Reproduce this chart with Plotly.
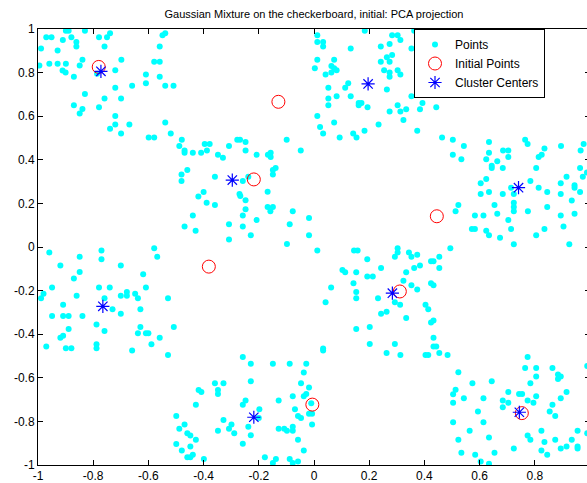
import plotly.graph_objects as go

points_x = [
 -0.995,-0.989,-0.970,-0.951,-0.959,-0.929,-0.929,-0.910,-0.911,-0.900,-0.899,-0.899,-0.889,-0.879,-0.861,-0.861,-0.870,-0.849,-0.839,-0.830,
 -0.870,-0.839,-0.849,-0.830,-0.779,-0.759,-0.750,-0.739,-0.779,-0.759,-0.786,-0.720,-0.698,-0.720,-0.720,-0.720,-0.699,-0.739,-0.699,-0.669,
 -0.659,-0.609,-0.609,-0.599,-0.579,-0.579,-0.559,-0.559,-0.549,-0.539,-0.559,-0.539,-0.509,-0.539,-0.519,-0.479,-0.488,-0.469,-0.469,-0.439,
 -0.409,-0.388,-0.396,-0.378,-0.348,-0.308,-0.278,-0.268,-0.248,-0.248,-0.208,-0.167,-0.157,-0.099,
 0.012,0.012,0.033,0.033,0.184,0.133,0.283,0.303,0.313,0.242,0.274,0.353,0.363,0.012,0.003,0.063,0.073,0.073,0.082,0.063,
 0.042,0.242,0.274,0.264,0.283,0.254,0.274,0.274,0.303,0.313,0.124,0.113,0.052,0.052,0.052,0.082,0.133,0.162,0.172,0.162,
 0.194,0.264,0.384,0.353,0.393,0.303,0.334,0.274,0.313,0.384,0.443,0.012,0.324,0.073,0.022,0.033,0.234,0.183,0.142,0.154,
 0.093,0.374,0.464,0.503,0.543,0.634,0.634,0.685,0.704,0.765,0.774,0.835,0.825,0.895,0.966,0.977,0.503,-0.048,
 -0.480,-0.480,-0.459,-0.359,-0.419,-0.400,-0.389,-0.359,-0.439,-0.469,-0.429,-0.959,-0.770,-0.770,-0.849,-0.919,-0.849,-0.870,-0.700,-0.579,
 -0.568,-0.619,-0.949,-0.980,-0.989,-0.909,-0.860,-0.779,-0.740,-0.759,-0.700,-0.678,-0.678,-0.648,-0.638,-0.609,-0.529,
 -0.330,-0.157,-0.139,-0.149,-0.149,-0.238,-0.258,-0.270,-0.267,-0.248,-0.168,-0.168,-0.149,-0.158,-0.248,-0.258,-0.208,-0.308,-0.258,-0.229,
 -0.308,-0.077,-0.018,-0.088,-0.018,-0.098,0.012,0.145,0.158,0.193,0.303,0.303,0.293,0.243,0.103,0.113,0.153,0.193,0.213,0.062,
 0.143,0.153,0.153,0.232,0.042,0.293,0.312,
 0.534,0.704,0.624,0.664,0.644,0.644,0.684,0.814,0.805,0.964,0.989,0.974,0.915,0.894,0.944,0.944,0.964,0.894,0.784,0.814,
 0.845,0.624,0.604,0.634,0.604,0.684,0.714,0.724,0.724,0.724,0.724,0.654,0.664,0.775,0.845,0.934,0.944,0.894,0.904,0.925,
 0.523,0.513,0.583,0.614,0.704,0.572,0.583,0.624,0.634,0.674,0.714,0.805,0.835,0.724,0.494,0.344,0.353,0.374,0.424,0.433,
 0.454,0.384,0.363,0.454,0.334,0.324,0.353,0.374,0.424,0.433,0.404,
 -0.730,-0.629,-0.700,-0.949,-0.909,-0.889,-0.839,-0.788,-0.889,-0.759,-0.629,-0.508,-0.909,-0.919,-0.638,-0.609,-0.600,-0.559,-0.970,-0.899,
 -0.879,-0.788,-0.788,-0.659,-0.589,-0.529,-0.359,-0.348,-0.348,-0.418,-0.408,-0.428,-0.499,-0.488,-0.469,-0.459,-0.448,-0.428,-0.499,-0.448,
 -0.479,-0.459,-0.448,-0.439,-0.399,-0.348,
 0.243,0.263,0.153,0.202,0.202,0.293,0.263,0.313,0.033,0.033,-0.258,-0.229,-0.149,-0.088,-0.028,-0.037,-0.328,-0.229,-0.047,-0.018,
 -0.028,-0.037,-0.077,-0.248,-0.258,-0.128,-0.010,-0.018,-0.007,-0.069,-0.198,-0.058,-0.047,-0.328,-0.299,-0.308,-0.289,-0.238,-0.229,-0.200,
 -0.128,-0.108,-0.098,-0.077,-0.077,-0.007,-0.058,-0.258,-0.037,-0.178,-0.138,-0.088,-0.058,-0.149,-0.077,
 0.414,0.334,0.424,0.433,0.433,0.433,0.443,0.404,0.414,0.454,0.484,0.774,0.765,0.805,0.864,0.990,0.805,0.884,0.894,0.884,
 0.784,0.523,0.574,0.644,0.513,0.504,0.543,0.504,0.614,0.704,0.743,0.754,0.805,0.915,0.894,0.684,0.704,0.774,0.795,0.684,
 0.864,0.854,0.874,0.594,0.504,0.614,0.564,0.634,0.523,0.774,0.784,0.824,0.835,0.874,0.934,0.955,0.990,0.915,0.894,0.955,
 0.955,0.824,0.845,0.724,0.654,0.534,0.584,0.604,0.634,
]
points_y = [
 0.832,0.910,0.962,0.962,0.841,0.901,0.841,0.949,0.810,0.801,0.841,0.992,0.992,0.962,0.940,0.920,0.781,0.832,0.859,0.992,
 0.650,0.633,0.612,0.702,0.962,0.920,0.962,0.980,0.641,0.681,0.795,0.811,0.859,0.731,0.601,0.562,0.681,0.542,0.521,0.562,
 0.740,0.791,0.751,0.502,0.502,0.850,0.850,0.920,0.971,0.980,0.781,0.740,0.740,0.571,0.521,0.492,0.463,0.443,0.432,0.432,
 0.432,0.443,0.472,0.472,0.423,0.463,0.492,0.492,0.482,0.443,0.423,0.423,0.432,0.492,
 0.971,0.940,0.940,0.920,0.992,0.910,0.971,0.971,0.949,0.920,0.931,0.910,0.992,0.859,0.820,0.830,0.859,0.820,0.811,0.801,
 0.791,0.850,0.850,0.870,0.881,0.811,0.801,0.781,0.811,0.791,0.751,0.731,0.731,0.681,0.650,0.691,0.691,0.661,0.661,0.650,
 0.641,0.722,0.751,0.691,0.661,0.650,0.632,0.621,0.621,0.632,0.641,0.601,0.582,0.571,0.551,0.521,0.562,0.533,0.521,0.502,
 0.502,0.533,0.502,0.492,0.463,0.482,0.432,0.443,0.443,0.492,0.472,0.452,0.423,0.463,0.443,0.472,0.423,0.443,
 0.333,0.303,0.353,0.322,0.232,0.252,0.203,0.193,0.144,0.094,0.074,-0.025,-0.016,-0.056,-0.045,-0.085,-0.115,-0.145,-0.085,-0.006,
 -0.045,-0.125,-0.186,-0.215,-0.235,-0.265,-0.224,-0.186,-0.186,-0.235,-0.224,-0.206,-0.224,-0.215,-0.235,-0.186,-0.235,
 0.409,0.413,0.362,0.353,0.333,0.322,0.303,0.243,0.234,0.214,0.254,0.184,0.184,0.164,0.173,0.144,0.124,0.104,0.094,0.054,
 0.034,0.164,0.133,0.104,0.054,0.014,-0.016,-0.016,-0.016,-0.056,-0.006,-0.025,-0.045,-0.096,-0.105,-0.116,-0.116,-0.135,-0.135,-0.186,
 -0.166,-0.206,-0.235,-0.235,-0.254,-0.254,-0.265,
 0.402,0.413,0.402,0.393,0.373,0.362,0.362,0.413,0.362,0.362,0.342,0.322,0.322,0.292,0.283,0.272,0.252,0.243,0.303,0.272,
 0.252,0.312,0.292,0.252,0.243,0.243,0.272,0.243,0.203,0.184,0.164,0.193,0.153,0.164,0.184,0.213,0.153,0.144,0.094,0.013,
 0.193,0.164,0.144,0.144,0.124,0.083,0.083,0.074,0.054,0.043,0.083,0.054,0.083,0.013,-0.006,-0.025,-0.045,-0.036,-0.065,-0.065,
 -0.045,-0.085,-0.096,-0.096,-0.116,-0.155,-0.175,-0.195,-0.166,-0.175,-0.265,
 -0.286,-0.286,-0.306,-0.317,-0.317,-0.317,-0.317,-0.356,-0.376,-0.385,-0.367,-0.367,-0.407,-0.416,-0.396,-0.396,-0.396,-0.416,-0.456,-0.465,
 -0.465,-0.446,-0.465,-0.475,-0.446,-0.495,-0.625,-0.656,-0.674,-0.656,-0.665,-0.724,-0.775,-0.834,-0.814,-0.854,-0.865,-0.884,-0.904,-0.915,
 -0.933,-0.964,-0.964,-0.953,-0.973,-0.843,
 -0.306,-0.297,-0.376,-0.367,-0.445,-0.445,-0.486,-0.495,-0.466,-0.475,-0.505,-0.536,-0.536,-0.536,-0.536,-0.576,-0.625,-0.616,-0.625,-0.645,
 -0.674,-0.685,-0.685,-0.704,-0.724,-0.704,-0.717,-0.765,-0.765,-0.744,-0.744,-0.775,-0.784,-0.794,-0.814,-0.834,-0.854,-0.825,-0.863,-0.784,
 -0.834,-0.834,-0.843,-0.825,-0.843,-0.814,-0.884,-0.903,-0.933,-0.964,-0.973,-0.973,-0.984,-0.991,-0.991,
 -0.286,-0.326,-0.346,-0.337,-0.416,-0.456,-0.456,-0.495,-0.495,-0.486,-0.495,-0.505,-0.555,-0.555,-0.555,-0.546,-0.594,-0.585,-0.594,-0.605,
 -0.625,-0.575,-0.625,-0.616,-0.655,-0.675,-0.694,-0.715,-0.694,-0.665,-0.674,-0.674,-0.685,-0.665,-0.694,-0.704,-0.715,-0.704,-0.715,-0.735,
 -0.724,-0.755,-0.775,-0.755,-0.804,-0.804,-0.843,-0.874,-0.884,-0.865,-0.884,-0.843,-0.894,-0.884,-0.884,-0.843,-0.854,-0.915,-0.924,-0.915,
 -0.924,-0.933,-0.953,-0.924,-0.944,-0.944,-0.953,-0.984,-0.994,
]

initial_x = [-0.780, -0.129, -0.218, 0.445, -0.381, 0.311, -0.006, 0.753]
initial_y = [0.826, 0.666, 0.310, 0.141, -0.090, -0.204, -0.723, -0.762]

centers_x = [-0.772, 0.196, -0.296, 0.741, -0.765, 0.284, -0.218, 0.744]
centers_y = [0.806, 0.748, 0.307, 0.272, -0.272, -0.212, -0.781, -0.758]

tick_vals = [-1, -0.8, -0.6, -0.4, -0.2, 0, 0.2, 0.4, 0.6, 0.8, 1]
tick_text = ["-1", "-0.8", "-0.6", "-0.4", "-0.2", "0", "0.2", "0.4", "0.6", "0.8", "1"]

FONT = "Liberation Sans, Arial, Helvetica, sans-serif"

fig = go.Figure()
fig.add_trace(go.Scatter(
    x=points_x, y=points_y, mode="markers", name="Points",
    marker=dict(color="#00FFFF", size=6, line=dict(width=0)),
))
fig.add_trace(go.Scatter(
    x=initial_x, y=initial_y, mode="markers", name="Initial Points",
    marker=dict(symbol="circle-open", color="#FF0000", size=13, line=dict(color="#FF0000", width=1)),
))
fig.add_trace(go.Scatter(
    x=centers_x, y=centers_y, mode="markers", name="Cluster Centers",
    marker=dict(symbol="asterisk-open", color="#0000FF", size=11, line=dict(color="#0000FF", width=1.2)),
))

axis_common = dict(
    tickvals=tick_vals, ticktext=tick_text,
    ticks="inside", ticklen=5, tickwidth=1, tickcolor="black",
    showline=True, linecolor="black", linewidth=1, mirror="allticks",
    showgrid=False, zeroline=False,
    tickfont=dict(family=FONT, size=12, color="black"),
)

# the original frame extends just past the right edge of the 587 px window
fig.update_layout(
    width=590, height=483,
    margin=dict(l=38, r=0, t=29, b=18, autoexpand=False),
    paper_bgcolor="white", plot_bgcolor="white",
    title=dict(text="Gaussian Mixture on the checkerboard, initial: PCA projection",
               x=0.5, xref="paper", xanchor="center",
               y=1 - 14 / 483, yref="container", yanchor="middle",
               font=dict(family=FONT, size=11, color="black")),
    xaxis=dict(range=[-1, 1], **axis_common),
    yaxis=dict(range=[-1, 1], **axis_common),
    legend=dict(x=(414 - 38) / 552, y=1, xanchor="left", yanchor="top",
                bgcolor="white", bordercolor="black", borderwidth=1,
                font=dict(family=FONT, size=12, color="black"),
                itemsizing="trace", tracegroupgap=0),
    showlegend=True,
)

fig.write_html(
    "out.html",
    config={"displayModeBar": False},
    post_script="document.body.style.margin='0';document.body.style.overflow='hidden';"
                "document.documentElement.style.overflow='hidden';",
)
